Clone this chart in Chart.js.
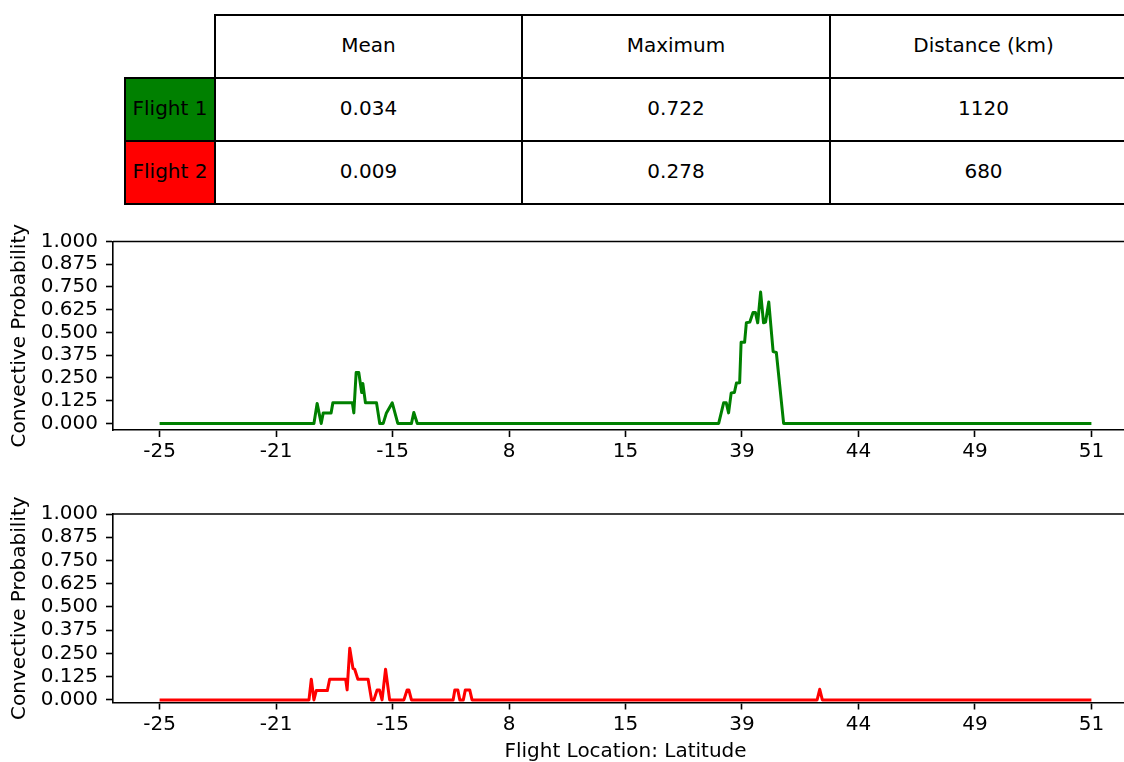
<!DOCTYPE html>
<html>
<head>
<meta charset="utf-8">
<script src="https://cdn.jsdelivr.net/npm/chart.js@4.4.1/dist/chart.umd.min.js"></script>
<style>
    html, body { margin: 0; padding: 0; background: #fff; }
    body { width: 1124px; height: 762px; overflow: hidden; position: relative; font-family: 'DejaVu Sans', sans-serif; }
    #stats { position: absolute; left: 124px; top: 14px; width: 1005px; table-layout: fixed; border-collapse: collapse; font-size: 20px; color: #000; }
    #stats td { border: 2px solid #000; text-align: center; padding: 0 0 3px 0; }
    #stats td.corner { border: none; }
    canvas { position: absolute; left: 0; }
</style>
</head>
<body>
<table id="stats"></table>
<canvas id="chart-flight1" width="1140" height="260" style="top:220px"></canvas>
<canvas id="chart-flight2" width="1140" height="285" style="top:490px"></canvas>
<script>
// table values
const colNames = ['Mean', 'Maximum', 'Distance (km)'];
const flightNames = ['Flight 1', 'Flight 2'];
const flightColors = ['#008000', '#ff0000'];
const meanVals = ['0.034', '0.009'];
const maxVals = ['0.722', '0.278'];
const distVals = ['1120', '680'];

// x axis: sample position along the track, tick every 40 samples
const latLabels = ['-25', '-21', '-15', '8', '15', '39', '44', '49', '51'];
const yTickVals = [0, 0.125, 0.25, 0.375, 0.5, 0.625, 0.75, 0.875, 1.0];

// flight 1 (green)
const track1 = [0, 53, 54.1, 55.5, 56.2, 58.9, 59.5, 66.2, 66.7, 67.5, 68.4, 69.4, 69.8, 70.7, 74.5, 75.6, 76.8, 77.9, 79.9, 81.8,
    86.5, 87.3, 88.5, 192, 193.7, 194.6, 195.4, 196.3, 197.4, 198.1, 199.2, 199.7, 200.9, 201.5, 202.7, 203.8, 204.6, 205.4,
    206.4, 207.4, 208.1, 209.2, 210.7, 211.8, 214.3, 320];
const prob1 = [0, 0, 0.11, 0, 0.058, 0.058, 0.113, 0.113, 0.058, 0.28, 0.28, 0.17, 0.22, 0.113, 0.113, 0, 0, 0.058, 0.113, 0,
    0, 0.06, 0, 0, 0.113, 0.113, 0.058, 0.168, 0.17, 0.222, 0.224, 0.446, 0.446, 0.553, 0.557, 0.61, 0.61, 0.553,
    0.722, 0.553, 0.557, 0.668, 0.395, 0.39, 0, 0];

// flight 2 (red)
const track2 = [0, 51.3, 52.1, 53, 53.8, 57.6, 58.4, 63.9, 64.4, 65.3, 66.4, 67, 68.1, 71.6, 72.8, 73.6, 74.7, 75.5, 76.4, 77.6,
    79, 83.9, 85, 85.6, 86.5, 100.8, 101.4, 102.4, 103.1, 104.3, 105, 106.5, 107.3, 225.8, 226.7, 227.6, 320];
const prob2 = [0, 0, 0.111, 0, 0.05, 0.05, 0.111, 0.111, 0.054, 0.278, 0.17, 0.165, 0.111, 0.111, 0, 0, 0.054, 0.054, 0, 0.165,
    0, 0, 0.054, 0.054, 0, 0, 0.054, 0.054, 0, 0, 0.054, 0.054, 0, 0, 0.057, 0, 0];

// build the table
const table = document.getElementById('stats');
const colW = [89, 305, 306, 305];
const rowH = [63, 63, 63];
let html = '<tr style="height:' + rowH[0] + 'px"><td class="corner" style="width:' + colW[0] + 'px"></td>';
colNames.forEach(function (c, i) { html += '<td style="width:' + colW[i + 1] + 'px">' + c + '</td>'; });
html += '</tr>';
flightNames.forEach(function (f, r) {
    html += '<tr style="height:' + rowH[r + 1] + 'px"><td style="background:' + flightColors[r] + '">' + f + '</td>' +
        '<td>' + meanVals[r] + '</td><td>' + maxVals[r] + '</td><td>' + distVals[r] + '</td></tr>';
});
table.innerHTML = html;

// draws the top/right spines of the axes box
const frame = {
    id: 'frame',
    afterDraw(chart) {
        const a = chart.chartArea, ctx = chart.ctx;
        ctx.save();
        ctx.strokeStyle = '#000';
        ctx.lineWidth = 1.6;
        ctx.beginPath();
        ctx.moveTo(a.left, a.top);
        ctx.lineTo(a.right, a.top);
        ctx.lineTo(a.right, a.bottom);
        ctx.stroke();
        ctx.restore();
    }
};

const font = { family: 'DejaVu Sans', size: 20, lineHeight: 1 };

function makeChart(id, track, prob, color, ymin, padTop, xHeight, showXTitle) {
    return new Chart(document.getElementById(id), {
        type: 'line',
        data: {
            datasets: [{
                data: track.map(function (x, i) { return { x: x, y: prob[i] }; }),
                borderColor: color,
                borderWidth: 3,
                borderJoinStyle: 'round',
                borderCapStyle: 'butt',
                pointRadius: 0,
                tension: 0,
                fill: false
            }]
        },
        options: {
            responsive: false,
            animation: false,
            events: [],
            layout: { padding: { top: padTop, right: 2, left: 0, bottom: 0 } },
            plugins: { legend: { display: false }, tooltip: { enabled: false } },
            scales: {
                x: {
                    type: 'linear',
                    min: -16,
                    max: 336,
                    afterBuildTicks: function (s) { s.ticks = latLabels.map(function (l, i) { return { value: i * 40 }; }); },
                    afterFit: function (s) { s.height = xHeight; },
                    ticks: {
                        autoSkip: false, maxRotation: 0, padding: 5, color: '#000', font: font,
                        callback: function (v) { return latLabels[Math.round(v / 40)]; }
                    },
                    grid: { drawOnChartArea: false, drawTicks: true, tickLength: 7, tickWidth: 1.6, tickColor: '#000' },
                    border: { display: true, color: '#000', width: 1.6 },
                    title: {
                        display: showXTitle, text: 'Flight Location: Latitude', color: '#000', font: font,
                        padding: { top: 0, bottom: 13 }
                    }
                },
                y: {
                    min: ymin,
                    max: 1,
                    afterBuildTicks: function (s) { s.ticks = yTickVals.map(function (v) { return { value: v }; }); },
                    afterFit: function (s) { s.width = 113; },
                    ticks: {
                        padding: 8, color: '#000', font: font,
                        callback: function (v) { return v.toFixed(3); }
                    },
                    grid: { drawOnChartArea: false, drawTicks: true, tickLength: 7, tickWidth: 1.6, tickColor: '#000' },
                    border: { display: true, color: '#000', width: 1.6 },
                    title: {
                        display: true, text: 'Convective Probability', color: '#000', font: font,
                        padding: { top: 10, bottom: 0 }
                    }
                }
            }
        },
        plugins: [frame]
    });
}

makeChart('chart-flight1', track1, prob1, '#008000', -0.0361, 21.5, 50, false);
makeChart('chart-flight2', track2, prob2, '#ff0000', -0.0139, 24, 72.5, true);
</script>
</body>
</html>
